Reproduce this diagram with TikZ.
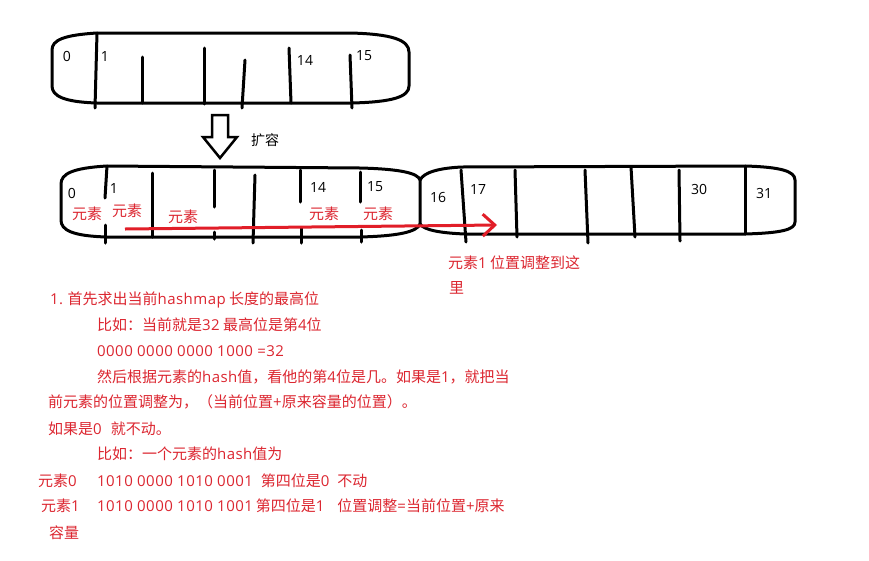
\documentclass[tikz,border=0pt]{standalone}
\usepackage{fontspec}
\setmainfont{Noto Sans CJK SC}
\newfontfamily\latfont[LetterSpace=3]{Open Sans}
\newfontfamily\idxfont{Open Sans}
\newcommand\lt[1]{{\latfont #1}}
\usetikzlibrary{arrows.meta}
\definecolor{redtxt}{RGB}{220,38,48}
\definecolor{redline}{RGB}{225,30,40}
\tikzset{
  outline/.style={line width=3pt, line join=round, line cap=round},
  divider/.style={line width=3pt, line cap=round},
  idx/.style={inner sep=0pt, font=\idxfont\fontsize{14}{15}\selectfont},
  elem/.style={inner sep=0pt, text=redtxt, font=\fontsize{15}{16}\selectfont},
  note/.style={inner sep=0pt, anchor=west, text=redtxt, font=\fontsize{15}{16}\selectfont},
}
\begin{document}
\begin{tikzpicture}[x=1pt,y=-1pt]
\useasboundingbox (0,0) rectangle (869,560);
\fill[white] (0,0) rectangle (869,560);
% top array
\draw[outline] (97,33) -- (350,33) .. controls (392,34) and (409,40) .. (409,52) -- (409,86)
  .. controls (409,97) and (392,102) .. (352,103) -- (97,103)
  .. controls (64,102) and (52,96) .. (52,86) -- (52,50)
  .. controls (52,40) and (64,35) .. (97,33) -- cycle;
\draw[divider] (97,33) -- (95,108);
\draw[divider] (142,57) -- (142,103);
\draw[divider] (204,48) -- (204,104);
\draw[divider] (245,60) -- (242,108);
\draw[divider] (289,48) -- (291,103);
\draw[divider] (350,55) -- (352,108);
\node[idx] (t0) at (67,56) {0};
\node[idx] (t1) at (105,56) {1};
\node[idx] (t14) at (305,60) {14};
\node[idx] (t15) at (364,56) {15};
% hollow arrow
\draw[line width=2.5pt, line join=miter] (212,115) -- (228,115) -- (228,137) -- (237,137) -- (220,158) -- (203,137) -- (212,137) -- cycle;
\node[inner sep=0pt, font=\fontsize{14}{15}\selectfont] (kr) at (265,140) {扩容};
% second array left part
\draw[outline] (107,166) -- (360,168) .. controls (400,169) and (418,173) .. (420,180) -- (420,224)
  .. controls (417,232) and (398,236) .. (360,237) -- (107,237)
  .. controls (72,236) and (61,230) .. (61,220) -- (61,184)
  .. controls (61,174) and (72,168) .. (107,166) -- cycle;
% second array right part
\draw[outline] (420,180) .. controls (424,172) and (440,168) .. (462,167) -- (745,166)
  .. controls (780,167) and (795,171) .. (795,180) -- (795,222)
  .. controls (795,230) and (780,233) .. (745,234) -- (465,234)
  .. controls (440,233) and (424,230) .. (420,224);
\draw[divider] (107,166) -- (105,198);
\draw[divider] (105,225) -- (105,243);
\draw[divider] (152,173) -- (152,237);
\draw[divider] (214,170) -- (214,207);
\draw[divider] (214,232) -- (214,239);
\draw[divider] (255,175) -- (253,243);
\draw[divider] (300,170) -- (300,202);
\draw[divider] (301,228) -- (301,243);
\draw[divider] (360,172) -- (360,202);
\draw[divider] (361,230) -- (361,242);
\draw[divider] (461,170) -- (466,242);
\draw[divider] (515,170) -- (517,237);
\draw[divider] (585,170) -- (588,243);
\draw[divider] (631,167) -- (635,237);
\draw[divider] (679,170) -- (680,241);
\draw[divider] (745,166) -- (745,234);
\node[idx] (b0) at (72,193) {0};
\node[idx] (b1) at (114,188) {1};
\node[idx] (b14) at (318,187) {14};
\node[idx] (b15) at (375,187) {15};
\node[idx] (b16) at (438,197) {16};
\node[idx] (b17) at (478,189) {17};
\node[idx] (b30) at (699,189) {30};
\node[idx] (b31) at (764,193) {31};
% red element labels
\node[elem] (e0) at (87,214) {元素};
\node[elem] (e1) at (127,211) {元素};
\node[elem] (e2) at (183,217) {元素};
\node[elem] (e14) at (324,214) {元素};
\node[elem] (e15) at (378,214) {元素};
% red arrow
\coordinate (ra) at (125,229);
\coordinate (rb) at (497,225);
\draw[redline, line width=3pt, -{Straight Barb[length=12pt,width=22pt,line width=3pt]}] (ra) -- (rb);
\node[note] (m1) at (448,263) {元素\lt{1} 位置调整到这};
\node[note] (m2) at (449,288) {里};
% text block
\node[note] (l1) at (50,300) {\lt{1.} 首先求出当前\lt{hashmap} 长度的最高位};
\node[note] (l2) at (97,325) {比如：当前就是\lt{32} 最高位是第\lt{4}位};
\node[note] (l3) at (97,351) {\lt{0000 0000 0000 1000 =32}};
\node[note] (l4) at (97,377) {然后根据元素的\lt{hash}值，看他的第\lt{4}位是几。如果是\lt{1}，就把当};
\node[note] (l5) at (48,402) {前元素的位置调整为，（当前位置\lt{+}原来容量的位置）。};
\node[note] (l6) at (48,429) {如果是\lt{0}\hspace{9pt}就不动。};
\node[note] (l7) at (97,454) {比如：一个元素的\lt{hash}值为};
\node[note] (l8a) at (38,481) {元素\lt{0}};
\node[note] (l8) at (97,481) {\lt{1010 0000 1010 0001}\hspace{8pt}第四位是\lt{0}\hspace{8pt}不动};
\node[note] (l9a) at (41,506) {元素\lt{1}};
\node[note] (l9) at (97,506) {\lt{1010 0000 1010 1001}\hspace{3pt}第四位是\lt{1}\hspace{13pt}位置调整\lt{=}当前位置\lt{+}原来};
\node[note] (l10) at (49,533) {容量};
\end{tikzpicture}
\end{document}
